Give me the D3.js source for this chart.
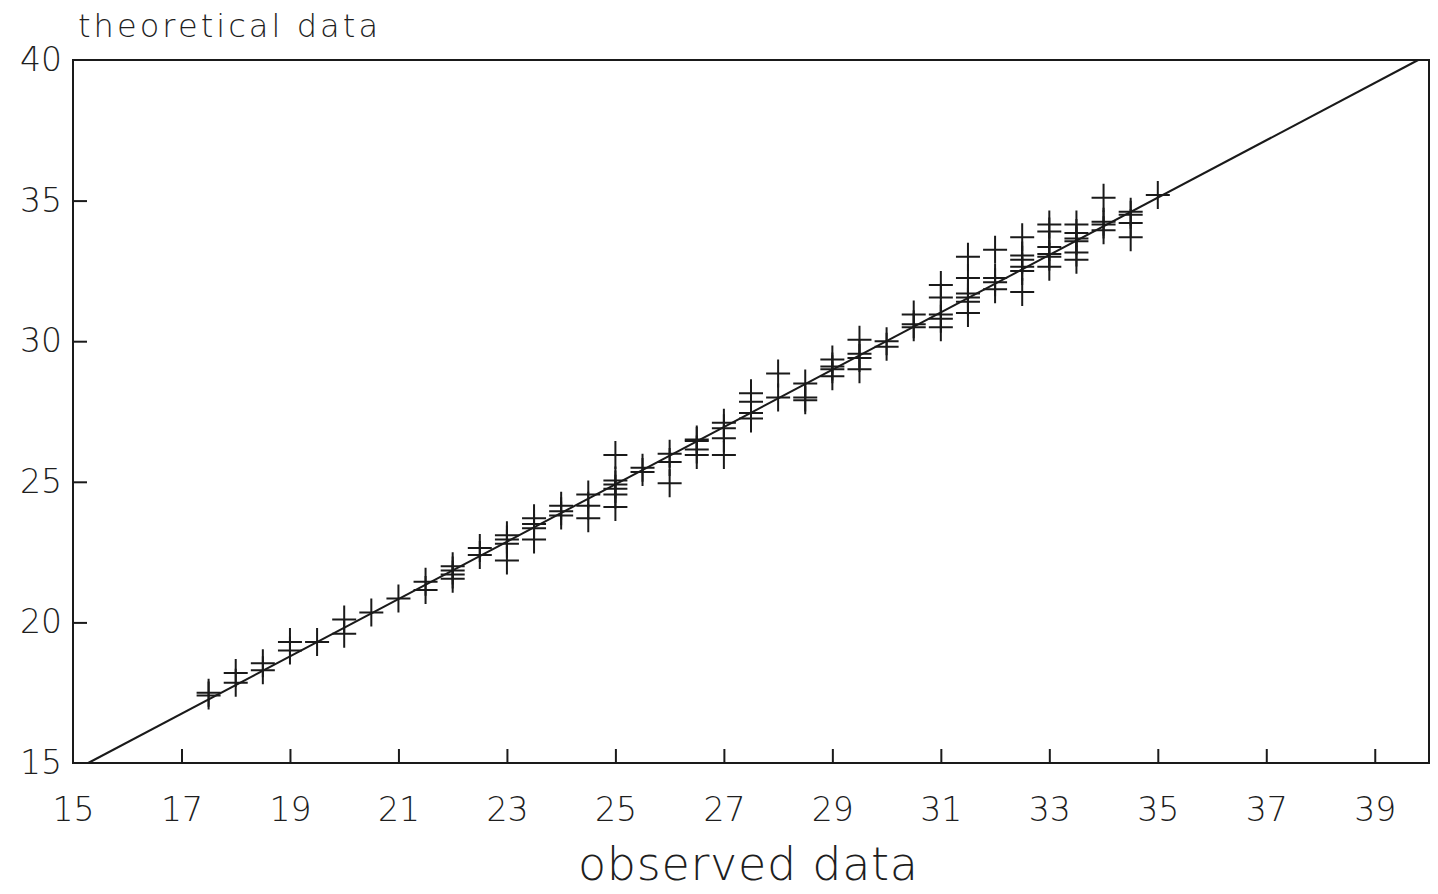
<!DOCTYPE html>
<html>
<head>
<meta charset="utf-8">
<script src="https://cdn.jsdelivr.net/npm/d3@7"></script>
<style>
html,body{margin:0;padding:0;background:#fff;}
svg{display:block;}
text{font-family:"DejaVu Sans",sans-serif;fill:#1e1e1e;font-weight:200;}
</style>
</head>
<body>
<svg id="chart" width="1438" height="894"></svg>
<script>
// ---- data ----
const observed = [
  17.5,17.5,
  18,18,
  18.5,18.5,
  19,19,
  19.5,
  20,20,
  20.5,
  21,
  21.5,21.5,
  22,22,22,22,
  22.5,22.5,
  23,23,23,23,
  23.5,23.5,23.5,23.5,
  24,24,24,
  24.5,24.5,24.5,
  25,25,25,25,25,25,
  25.5,25.5,
  26,26,26,
  26.5,26.5,26.5,26.5,
  27,27,27,27,
  27.5,27.5,27.5,27.5,
  28,28,
  28.5,28.5,28.5,
  29,29,29,29,
  29.5,29.5,29.5,29.5,
  30,30,
  30.5,30.5,30.5,
  31,31,31,31,31,
  31.5,31.5,31.5,31.5,31.5,31.5,
  32,32,32,32,
  32.5,32.5,32.5,32.5,32.5,32.5,
  33,33,33,33,33,33,
  33.5,33.5,33.5,33.5,33.5,33.5,
  34,34,34,34,
  34.5,34.5,34.5,34.5,
  35
];
const theoretical = [
  17.4,17.5,
  18.2,17.85,
  18.55,18.3,
  19.3,19.0,
  19.3,
  20.1,19.6,
  20.35,
  20.85,
  21.45,21.15,
  22.0,21.85,21.7,21.55,
  22.65,22.4,
  23.1,22.95,22.8,22.2,
  23.7,23.5,23.35,22.95,
  24.15,23.95,23.8,
  24.55,24.15,23.7,
  25.95,25.05,24.9,24.75,24.55,24.1,
  25.5,25.35,
  26.0,25.7,24.95,
  26.5,26.45,26.15,25.95,
  27.1,26.9,26.55,25.95,
  28.15,27.85,27.45,27.25,
  28.85,28.0,
  28.5,28.0,27.9,
  29.35,29.1,29.0,28.75,
  30.05,29.55,29.4,29.0,
  30.0,29.8,
  30.95,30.6,30.5,
  32.0,31.55,30.95,30.8,30.5,
  33.0,32.25,31.7,31.55,31.4,31.0,
  33.25,32.25,32.1,31.85,
  33.7,33.05,32.9,32.65,32.5,31.75,
  34.15,33.9,33.35,33.1,33.0,32.65,
  34.15,33.85,33.65,33.55,33.15,32.9,
  35.1,34.25,34.15,33.95,
  34.6,34.5,34.2,33.7,
  35.2
];
const lineObserved = [15.28, 39.8];
const lineTheoretical = [15, 40];
const xTicks = [15,17,19,21,23,25,27,29,31,33,35,37,39];
const yTicks = [15,20,25,30,35,40];
const xDomain = [15, 40];
const yDomain = [15, 40];
const yTitle = "theoretical data";
const xTitle = "observed data";

// ---- layout ----
const svg = d3.select("#chart");
const mLeft = 73, mRight = 1429, mTop = 60, mBottom = 763;
const x = d3.scaleLinear().domain(xDomain).range([mLeft, mRight]);
const y = d3.scaleLinear().domain(yDomain).range([mBottom, mTop]);
const FONT = "DejaVu Sans, sans-serif";

// frame
svg.append("rect")
  .attr("x", mLeft).attr("y", mTop)
  .attr("width", mRight - mLeft).attr("height", mBottom - mTop)
  .attr("fill", "none").attr("stroke", "#1a1a1a").attr("stroke-width", 2);

// x axis (ticks pointing up)
const xAxis = svg.append("g")
  .attr("transform", `translate(0,${mBottom})`)
  .call(d3.axisBottom(x).tickValues(xTicks).tickSize(-14).tickPadding(35).tickFormat(d3.format("d")));
xAxis.select(".domain").remove();
xAxis.selectAll(".tick line").attr("stroke", "#1a1a1a").attr("stroke-width", 2)
  .attr("display", d => d === 15 ? "none" : null);
xAxis.selectAll("text").attr("font-size", 33).attr("fill", "#1e1e1e")
  .attr("font-family", FONT).attr("font-weight", 200);

// y axis (short ticks pointing right)
const yAxis = svg.append("g")
  .attr("transform", `translate(${mLeft},0)`)
  .call(d3.axisLeft(y).tickValues(yTicks).tickSize(-14).tickPadding(11).tickFormat(d3.format("d")));
yAxis.select(".domain").remove();
yAxis.selectAll(".tick line").attr("stroke", "#1a1a1a").attr("stroke-width", 2)
  .attr("display", d => (d === 15 || d === 40) ? "none" : null);
yAxis.selectAll("text").attr("font-size", 33).attr("fill", "#1e1e1e")
  .attr("font-family", FONT).attr("font-weight", 200);

// diagonal line
const lineData = lineObserved.map((v, i) => [v, lineTheoretical[i]]);
svg.append("path")
  .datum(lineData)
  .attr("d", d3.line().x(d => x(d[0])).y(d => y(d[1])))
  .attr("fill", "none").attr("stroke", "#1a1a1a").attr("stroke-width", 2);

// plus markers
const pts = observed.map((v, i) => [v, theoretical[i]]);
const mk = svg.append("g").attr("stroke", "#1a1a1a").attr("stroke-width", 2);
mk.selectAll("path.pl").data(pts).enter().append("path")
  .attr("class", "pl")
  .attr("d", d => {
    const cx = x(d[0]), cy = y(d[1]);
    return `M${cx - 12},${cy}H${cx + 12}M${cx},${cy - 14}V${cy + 14}`;
  });

// titles
svg.append("text")
  .attr("x", 78).attr("y", 37)
  .attr("font-size", 32)
  .attr("textLength", 300).attr("lengthAdjust", "spacing")
  .text(yTitle);

svg.append("text")
  .attr("x", 578).attr("y", 880)
  .attr("font-size", 46)
  .attr("textLength", 340).attr("lengthAdjust", "spacing")
  .text(xTitle);
</script>
</body>
</html>
